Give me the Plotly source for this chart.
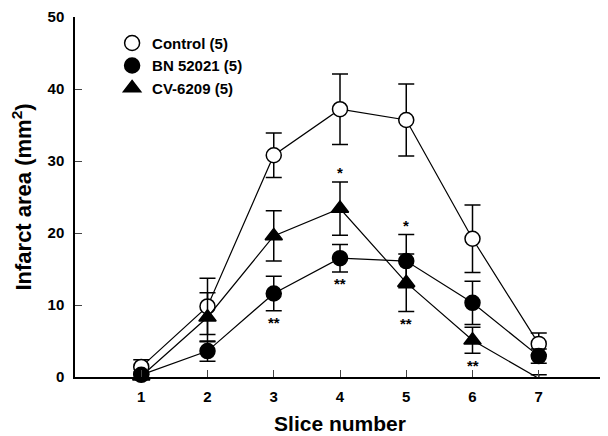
import plotly.graph_objects as go

slices = [1, 2, 3, 4, 5, 6, 7]

control = [1.4, 9.8, 30.8, 37.2, 35.7, 19.2, 4.6]
control_err = [1.0, 3.9, 3.1, 4.9, 5.0, 4.7, 1.5]

bn52021 = [0.3, 3.6, 11.6, 16.5, 16.1, 10.3, 2.9]
bn52021_err = [0.4, 1.4, 2.4, 1.9, 3.7, 3.0, 1.0]

cv6209 = [0.1, 8.3, 19.6, 23.4, 13.1, 5.1, -0.2]
cv6209_err = [0.3, 3.4, 3.5, 3.7, 4.0, 1.8, 0.5]

series_names = ["Control (5)", "BN 52021 (5)", "CV-6209 (5)"]

# significance marks: (slice, series, side, text)
sig_marks = [
    (3, "bn", "below", "**"),
    (4, "cv", "above", "*"),
    (4, "bn", "below", "**"),
    (5, "bn", "above", "*"),
    (5, "cv", "below", "**"),
    (6, "cv", "below", "**"),
]

FONT = "Liberation Sans, Arial, sans-serif"

fig = go.Figure()

styles = [
    (control, control_err, "circle", "white", 15),
    (cv6209, cv6209_err, "triangle-up", "black", 15),
    (bn52021, bn52021_err, "circle", "black", 15),
]
for vals, errs, sym, fill, size in styles:
    fig.add_trace(go.Scatter(
        x=slices, y=vals, mode="lines+markers",
        line=dict(color="black", width=1.2),
        marker=dict(symbol=sym, size=size, color=fill,
                    line=dict(color="black", width=1.5)),
        error_y=dict(type="data", array=errs, visible=True,
                     color="black", thickness=1.5, width=8),
        showlegend=False, cliponaxis=False,
    ))

legend_styles = [("circle", "white"), ("circle", "black"), ("triangle-up", "black")]
for name, (sym, fill) in zip(series_names, legend_styles):
    fig.add_trace(go.Scatter(
        x=[None], y=[None], mode="markers", name=name,
        marker=dict(symbol=sym, size=15, color=fill,
                    line=dict(color="black", width=1.5)),
    ))

lookup = {"bn": (bn52021, bn52021_err), "cv": (cv6209, cv6209_err)}
for s, key, side, txt in sig_marks:
    vals, errs = lookup[key]
    i = slices.index(s)
    if side == "above":
        y = vals[i] + errs[i]
        ys = 9
    else:
        y = vals[i] - errs[i]
        ys = -12
    fig.add_annotation(x=s, y=y, text=txt, showarrow=False, yshift=ys,
                       font=dict(family=FONT, size=15, color="black",
                                 weight="bold"))

fig.update_layout(
    width=608, height=436,
    margin=dict(l=67, r=11, t=9, b=67),
    paper_bgcolor="white", plot_bgcolor="white",
    font=dict(family=FONT, color="black"),
    legend=dict(x=0.07, y=0.973, xanchor="left", yanchor="top",
                font=dict(family=FONT, size=15, color="black", weight="bold"),
                bgcolor="rgba(0,0,0,0)", tracegroupgap=0),
    xaxis=dict(range=[0, 8], tickvals=slices, ticks="inside", ticklen=7,
               tickwidth=1.2, showline=True, linecolor="black", linewidth=1.5,
               showgrid=False, zeroline=False, automargin=False,
               ticklabelstandoff=5,
               tickfont=dict(family=FONT, size=15, weight="bold"),
               title=dict(text="Slice number", standoff=13,
                          font=dict(family=FONT, size=21, weight="bold"))),
    yaxis=dict(range=[0, 50], tickvals=[0, 10, 20, 30, 40, 50], ticks="inside",
               ticklen=7, tickwidth=1.2, showline=True, linecolor="black",
               linewidth=1.5, showgrid=False, zeroline=False, automargin=False,
               ticklabelstandoff=6,
               tickfont=dict(family=FONT, size=15, weight="bold"),
               title=dict(text="Infarct area (mm<sup>2</sup>)", standoff=14,
                          font=dict(family=FONT, size=22, weight="bold"))),
)

fig.write_html("out.html")
